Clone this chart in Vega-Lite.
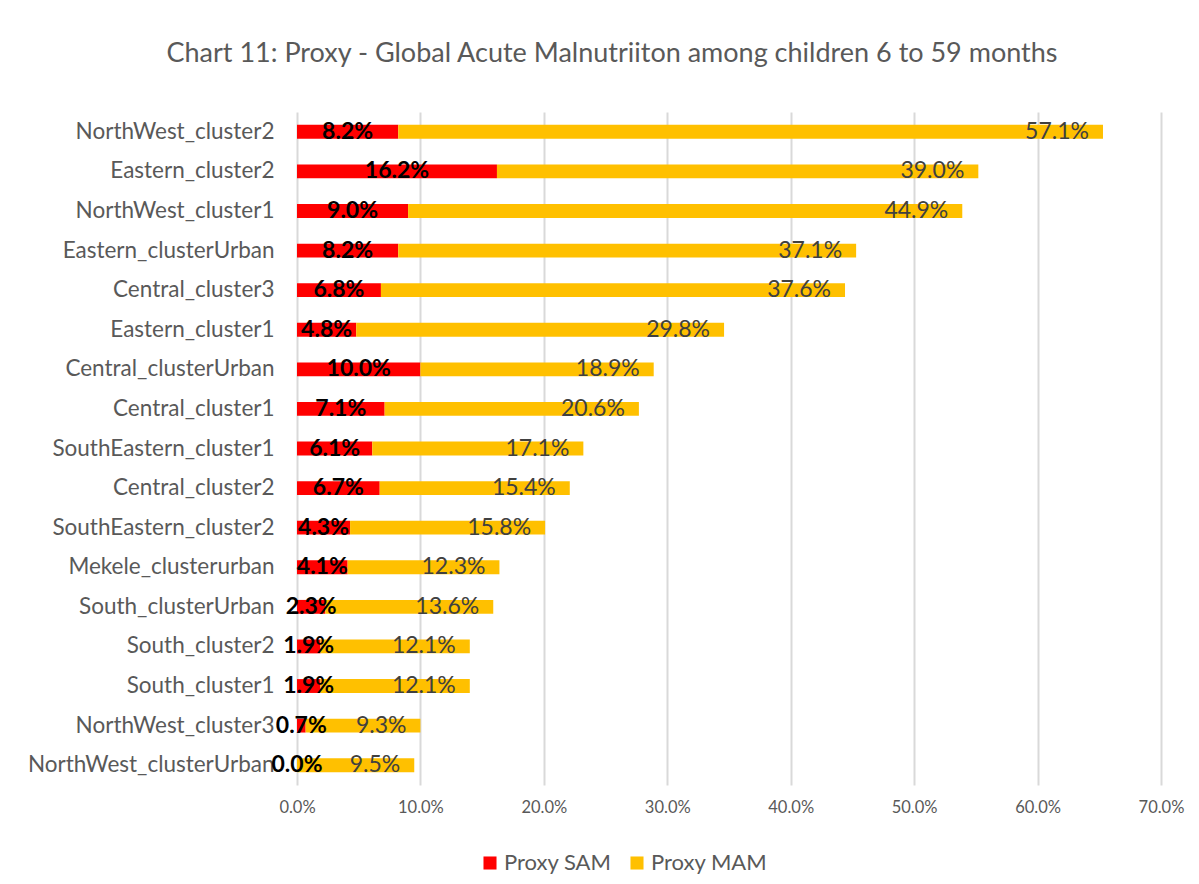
{
  "$schema": "https://vega.github.io/schema/vega-lite/v6.json",
  "width": 864,
  "height": 673,
  "autosize": "none",
  "padding": {"left": 297, "top": 112, "right": 38, "bottom": 99},
  "background": "white",
  "title": {
    "text": "Chart 11: Proxy - Global Acute Malnutriiton among children 6 to 59 months",
    "font": "Lato",
    "fontSize": 27,
    "fontWeight": "normal",
    "color": "#595959",
    "anchor": "middle",
    "frame": "group",
    "dx": -117,
    "offset": 44
  },
  "config": {"view": {"stroke": null}, "font": "Lato"},
  "data": {
    "values": [
      {"region": "NorthWest_cluster2", "type": "Proxy SAM", "value": 0.082},
      {"region": "NorthWest_cluster2", "type": "Proxy MAM", "value": 0.571},
      {"region": "Eastern_cluster2", "type": "Proxy SAM", "value": 0.162},
      {"region": "Eastern_cluster2", "type": "Proxy MAM", "value": 0.390},
      {"region": "NorthWest_cluster1", "type": "Proxy SAM", "value": 0.090},
      {"region": "NorthWest_cluster1", "type": "Proxy MAM", "value": 0.449},
      {"region": "Eastern_clusterUrban", "type": "Proxy SAM", "value": 0.082},
      {"region": "Eastern_clusterUrban", "type": "Proxy MAM", "value": 0.371},
      {"region": "Central_cluster3", "type": "Proxy SAM", "value": 0.068},
      {"region": "Central_cluster3", "type": "Proxy MAM", "value": 0.376},
      {"region": "Eastern_cluster1", "type": "Proxy SAM", "value": 0.048},
      {"region": "Eastern_cluster1", "type": "Proxy MAM", "value": 0.298},
      {"region": "Central_clusterUrban", "type": "Proxy SAM", "value": 0.100},
      {"region": "Central_clusterUrban", "type": "Proxy MAM", "value": 0.189},
      {"region": "Central_cluster1", "type": "Proxy SAM", "value": 0.071},
      {"region": "Central_cluster1", "type": "Proxy MAM", "value": 0.206},
      {"region": "SouthEastern_cluster1", "type": "Proxy SAM", "value": 0.061},
      {"region": "SouthEastern_cluster1", "type": "Proxy MAM", "value": 0.171},
      {"region": "Central_cluster2", "type": "Proxy SAM", "value": 0.067},
      {"region": "Central_cluster2", "type": "Proxy MAM", "value": 0.154},
      {"region": "SouthEastern_cluster2", "type": "Proxy SAM", "value": 0.043},
      {"region": "SouthEastern_cluster2", "type": "Proxy MAM", "value": 0.158},
      {"region": "Mekele_clusterurban", "type": "Proxy SAM", "value": 0.041},
      {"region": "Mekele_clusterurban", "type": "Proxy MAM", "value": 0.123},
      {"region": "South_clusterUrban", "type": "Proxy SAM", "value": 0.023},
      {"region": "South_clusterUrban", "type": "Proxy MAM", "value": 0.136},
      {"region": "South_cluster2", "type": "Proxy SAM", "value": 0.019},
      {"region": "South_cluster2", "type": "Proxy MAM", "value": 0.121},
      {"region": "South_cluster1", "type": "Proxy SAM", "value": 0.019},
      {"region": "South_cluster1", "type": "Proxy MAM", "value": 0.121},
      {"region": "NorthWest_cluster3", "type": "Proxy SAM", "value": 0.007},
      {"region": "NorthWest_cluster3", "type": "Proxy MAM", "value": 0.093},
      {"region": "NorthWest_clusterUrban", "type": "Proxy SAM", "value": 0.000},
      {"region": "NorthWest_clusterUrban", "type": "Proxy MAM", "value": 0.095}
    ]
  },
  "transform": [
    {"stack": "value", "groupby": ["region"], "sort": [{"field": "type", "order": "descending"}], "as": ["v0", "v1"]}
  ],
  "encoding": {
    "y": {
      "field": "region",
      "type": "nominal",
      "sort": ["NorthWest_cluster2", "Eastern_cluster2", "NorthWest_cluster1", "Eastern_clusterUrban", "Central_cluster3", "Eastern_cluster1", "Central_clusterUrban", "Central_cluster1", "SouthEastern_cluster1", "Central_cluster2", "SouthEastern_cluster2", "Mekele_clusterurban", "South_clusterUrban", "South_cluster2", "South_cluster1", "NorthWest_cluster3", "NorthWest_clusterUrban"],
      "scale": {"paddingInner": 0.65, "paddingOuter": 0.325},
      "axis": {"title": null, "domain": false, "ticks": false, "grid": false, "labelFont": "Lato", "labelFontSize": 22.5, "labelColor": "#595959", "labelPadding": 23, "labelLimit": 320}
    }
  },
  "layer": [
    {
      "mark": {"type": "bar"},
      "encoding": {
        "x": {
          "field": "v0",
          "type": "quantitative",
          "scale": {"domain": [0, 0.7], "nice": false},
          "axis": {"title": null, "domain": false, "ticks": false, "grid": true, "gridColor": "#D9D9D9", "gridWidth": 2, "values": [0, 0.1, 0.2, 0.3, 0.4, 0.5, 0.6, 0.7], "format": ".1%", "labelFlush": false, "labelFont": "Lato", "labelFontSize": 16.5, "labelColor": "#595959", "labelPadding": 14}
        },
        "x2": {"field": "v1"},
        "color": {
          "field": "type",
          "type": "nominal",
          "scale": {"domain": ["Proxy SAM", "Proxy MAM"], "range": ["#FF0000", "#FFC000"]},
          "legend": {"title": null, "orient": "none", "legendX": 182, "legendY": 740, "direction": "horizontal", "symbolType": "square", "symbolSize": 170, "symbolStrokeWidth": 0, "labelFont": "Lato", "labelFontSize": 22, "labelColor": "#595959", "columnPadding": 14, "labelOffset": 3}
        }
      }
    },
    {
      "transform": [
        {"filter": "datum.type === 'Proxy SAM'"},
        {"calculate": "(datum.v0 + datum.v1) / 2", "as": "mid"}
      ],
      "mark": {"type": "text", "font": "Lato", "fontWeight": "bold", "fontSize": 23, "color": "#000000"},
      "encoding": {
        "x": {"field": "mid", "type": "quantitative"},
        "text": {"field": "value", "type": "quantitative", "format": ".1%"}
      }
    },
    {
      "transform": [{"filter": "datum.type === 'Proxy MAM'"}],
      "mark": {"type": "text", "font": "Lato", "align": "right", "dx": -14, "fontSize": 23, "color": "#404040"},
      "encoding": {
        "x": {"field": "v1", "type": "quantitative"},
        "text": {"field": "value", "type": "quantitative", "format": ".1%"}
      }
    }
  ]
}
